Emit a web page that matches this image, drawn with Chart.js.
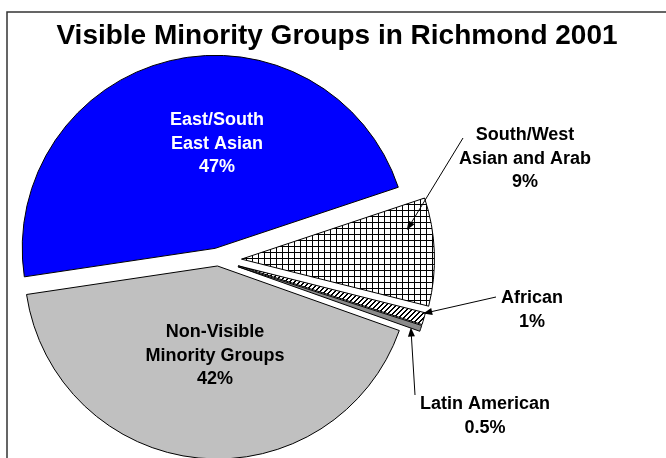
<!DOCTYPE html>
<html>
<head>
<meta charset="utf-8">
<script src="https://cdn.jsdelivr.net/npm/chart.js@4"></script>
<style>
  html, body { margin: 0; padding: 0; background: #fff; overflow: hidden; }
  canvas { display: block; }
</style>
</head>
<body>
<canvas id="pie" width="666" height="458"></canvas>
<script>
// data
const categories = [
  ['East/South', 'East Asian'],
  ['South/West', 'Asian and Arab'],
  ['African'],
  ['Latin American'],
  ['Non-Visible', 'Minority Groups']
];
const shares = [47, 9, 1, 0.5, 42];
const title = 'Visible Minority Groups in Richmond 2001';

// styling / layout
const explode = [12, 23.5, 21, 21, 6];
const labelSpots = [
  { x: 217, y: 125, color: '#fff' },
  { x: 525, y: 140, color: '#000' },
  { x: 532, y: 303, color: '#000' },
  { x: 485, y: 409, color: '#000' },
  { x: 215, y: 337, color: '#000' }
];
// leader lines: start near the label, tip placed inside the slice (t = share of the sweep, r = share of the radius)
const leaders = [
  null,
  { from: [463, 138], t: 0.26, r: 0.87 },
  { from: [496, 297], t: 0.1, r: 0.99 },
  { from: [415, 395], t: 0.9, r: 0.95 },
  null
];

const canvas = document.getElementById('pie');
const ctx = canvas.getContext('2d');

function gridPattern() {
  const c = document.createElement('canvas');
  c.width = 6; c.height = 6;
  const g = c.getContext('2d');
  g.fillStyle = '#fff'; g.fillRect(0, 0, 6, 6);
  g.fillStyle = '#000';
  g.fillRect(0, 0, 6, 1);
  g.fillRect(0, 0, 1, 6);
  return ctx.createPattern(c, 'repeat');
}

function hatchPattern() {
  const c = document.createElement('canvas');
  c.width = 5; c.height = 5;
  const g = c.getContext('2d');
  g.fillStyle = '#fff'; g.fillRect(0, 0, 5, 5);
  g.fillStyle = '#000';
  for (let x = 0; x < 5; x++) {
    for (let y = 0; y < 5; y++) {
      if ((x + y) % 5 < 2) g.fillRect(x, y, 1, 1);
    }
  }
  return ctx.createPattern(c, 'repeat');
}

const colors = ['#0000ff', gridPattern(), hatchPattern(), '#8a8a8a', '#c0c0c0'];

const explodePlugin = {
  id: 'explode',
  afterDatasetsUpdate(chart) {
    chart.getDatasetMeta(0).data.forEach((arc, i) => {
      const mid = (arc.startAngle + arc.endAngle) / 2;
      arc.x += Math.cos(mid) * explode[i];
      arc.y += Math.sin(mid) * explode[i];
    });
  }
};

const framePlugin = {
  id: 'frame',
  beforeDraw(chart) {
    const c = chart.ctx;
    c.save();
    c.fillStyle = '#fff';
    c.fillRect(0, 0, chart.width, chart.height);
    c.strokeStyle = '#333';
    c.lineWidth = 1.5;
    c.strokeRect(7, 12, 720, 520);
    c.restore();
  }
};

const textPlugin = {
  id: 'texts',
  afterDraw(chart) {
    const c = chart.ctx;
    const arcs = chart.getDatasetMeta(0).data;
    c.save();
    c.textAlign = 'center';
    c.textBaseline = 'alphabetic';
    c.fillStyle = '#000';
    c.font = 'bold 28px "Liberation Sans", Arial, sans-serif';
    c.fillText(title, 337, 44);

    c.font = 'bold 18px "Liberation Sans", Arial, sans-serif';
    categories.forEach((lines, i) => {
      const spot = labelSpots[i];
      c.fillStyle = spot.color;
      const all = lines.concat([shares[i] + '%']);
      all.forEach((ln, k) => c.fillText(ln, spot.x, spot.y + k * 23.5));
    });

    c.strokeStyle = '#000';
    c.fillStyle = '#000';
    c.lineWidth = 1;
    leaders.forEach((ld, i) => {
      if (!ld) return;
      const arc = arcs[i];
      const ang = arc.startAngle + ld.t * (arc.endAngle - arc.startAngle);
      const tx = arc.x + Math.cos(ang) * arc.outerRadius * ld.r;
      const ty = arc.y + Math.sin(ang) * arc.outerRadius * ld.r;
      const [fx, fy] = ld.from;
      const a = Math.atan2(ty - fy, tx - fx);
      c.beginPath();
      c.moveTo(fx, fy);
      c.lineTo(tx - Math.cos(a) * 6, ty - Math.sin(a) * 6);
      c.stroke();
      c.beginPath();
      c.moveTo(tx, ty);
      c.lineTo(tx - Math.cos(a) * 9 + Math.sin(a) * 3.5, ty - Math.sin(a) * 9 - Math.cos(a) * 3.5);
      c.lineTo(tx - Math.cos(a) * 9 - Math.sin(a) * 3.5, ty - Math.sin(a) * 9 + Math.cos(a) * 3.5);
      c.closePath();
      c.fill();
    });
    c.restore();
  }
};

new Chart(ctx, {
  type: 'pie',
  data: {
    labels: categories.map(l => l.join(' ')),
    datasets: [{
      data: shares,
      backgroundColor: colors,
      borderColor: '#000',
      borderWidth: 1,
      clip: false
    }]
  },
  options: {
    responsive: false,
    animation: false,
    rotation: -98.5,
    radius: 193,
    events: [],
    layout: { padding: { left: 0, right: 230, top: 62, bottom: 0 } },
    plugins: {
      legend: { display: false },
      title: { display: false },
      tooltip: { enabled: false }
    }
  },
  plugins: [framePlugin, explodePlugin, textPlugin]
});
</script>
</body>
</html>
